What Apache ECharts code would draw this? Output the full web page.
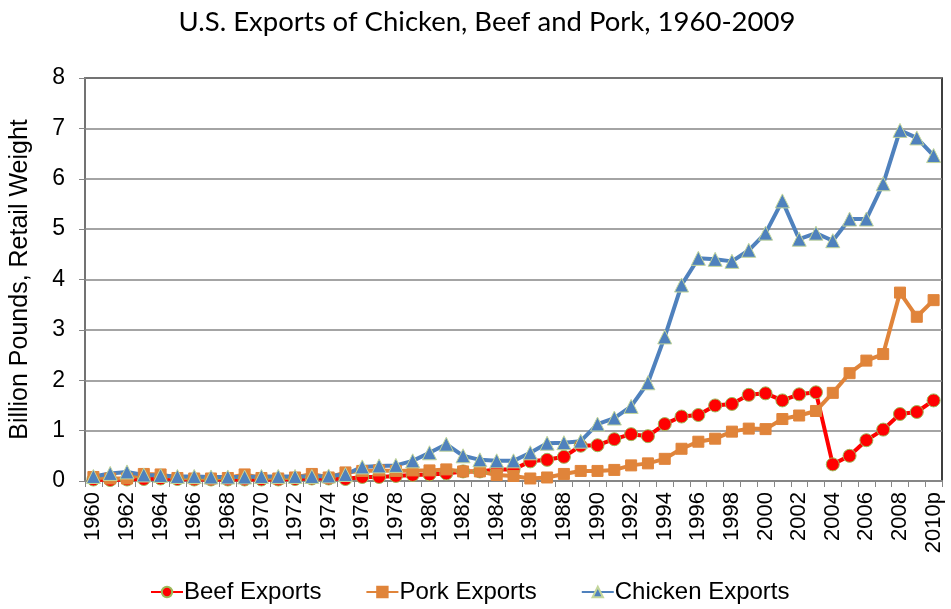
<!DOCTYPE html>
<html>
<head>
<meta charset="utf-8">
<script src="https://cdn.jsdelivr.net/npm/echarts@6/dist/echarts.min.js"></script>
<style>html,body{margin:0;padding:0;background:#fff}#c{width:951px;height:609px}</style>
</head>
<body>
<div id="c"></div>
<script>
var years = [];
for (var y = 1960; y <= 2009; y++) years.push(String(y));
years.push('2010p');

var beef = [0.03,0.02,0.03,0.04,0.05,0.04,0.03,0.03,0.03,0.03,
            0.03,0.03,0.04,0.05,0.05,0.04,0.08,0.08,0.10,0.12,
            0.13,0.15,0.19,0.19,0.23,0.23,0.39,0.42,0.48,0.70,
            0.71,0.83,0.93,0.89,1.13,1.28,1.31,1.50,1.53,1.71,
            1.74,1.60,1.72,1.76,0.33,0.50,0.81,1.02,1.33,1.37,1.60];
var pork = [0.08,0.05,0.05,0.14,0.13,0.06,0.05,0.05,0.06,0.13,
            0.06,0.05,0.07,0.14,0.07,0.17,0.20,0.21,0.20,0.21,
            0.21,0.23,0.19,0.19,0.12,0.10,0.05,0.07,0.14,0.20,
            0.20,0.22,0.31,0.35,0.44,0.64,0.78,0.84,0.98,1.04,
            1.03,1.23,1.30,1.39,1.75,2.14,2.39,2.52,3.74,3.26,3.59];
var chicken = [0.09,0.15,0.18,0.12,0.11,0.09,0.09,0.08,0.08,0.08,
               0.09,0.09,0.09,0.09,0.10,0.13,0.28,0.30,0.31,0.40,
               0.56,0.73,0.50,0.42,0.40,0.40,0.56,0.75,0.76,0.79,
               1.13,1.25,1.48,1.95,2.86,3.89,4.42,4.40,4.36,4.58,
               4.92,5.56,4.80,4.92,4.77,5.20,5.20,5.90,6.96,6.81,6.46];
var yTicks = [0,1,2,3,4,5,6,7,8];

var chart = echarts.init(document.getElementById('c'));
chart.setOption({
  animation: false,
  backgroundColor: '#fff',
  title: {
    text: 'U.S. Exports of Chicken, Beef and Pork, 1960-2009',
    left: 482, textAlign: 'center', top: 3,
    textStyle: {fontFamily: 'Lato', fontSize: 27.5, fontWeight: 'normal', color: '#000'}
  },
  legend: {
    bottom: 0, left: 145, itemWidth: 32, itemHeight: 13, itemGap: 44,
    textStyle: {fontFamily: 'Liberation Sans', fontSize: 24, color: '#000', padding: [0,0,0,-4]},
    data: ['Beef Exports', 'Pork Exports', 'Chicken Exports']
  },
  grid: {left: 83, right: 9, top: 78, bottom: 128, show: true, borderColor: '#000', borderWidth: 1.5},
  xAxis: {
    type: 'category', data: years, boundaryGap: true,
    axisLine: {lineStyle: {color: '#868686', width: 2}},
    axisTick: {show: true, alignWithLabel: false, interval: 0, length: 6, lineStyle: {color: '#868686'}},
    axisLabel: {rotate: 90, interval: 1, fontFamily: 'Liberation Sans', fontSize: 22, color: '#000', margin: 11}
  },
  yAxis: {
    type: 'value', min: 0, max: 8, interval: 1,
    name: 'Billion Pounds, Retail Weight', nameLocation: 'middle', nameGap: 52,
    nameTextStyle: {fontFamily: 'Liberation Sans', fontSize: 25, color: '#000'},
    axisLine: {show: true, lineStyle: {color: '#868686', width: 1.5}},
    axisTick: {show: true, length: 6, lineStyle: {color: '#868686'}},
    axisLabel: {fontFamily: 'Liberation Sans', fontSize: 23, color: '#000', margin: 20,
      formatter: function (v) { return yTicks.indexOf(v) >= 0 ? String(v) : ''; }},
    splitLine: {lineStyle: {color: '#868686', width: 1.5}}
  },
  series: [
    {name: 'Beef Exports', type: 'line', data: beef, symbol: 'circle', symbolSize: 13, showAllSymbol: true,
     lineStyle: {color: '#FF0000', width: 4}, itemStyle: {color: '#FF0000', borderColor: '#9BBB59', borderWidth: 1}},
    {name: 'Pork Exports', type: 'line', data: pork, symbol: 'rect', symbolSize: 11, showAllSymbol: true,
     lineStyle: {color: '#E0843A', width: 4}, itemStyle: {color: '#E0843A', borderColor: '#E0843A', borderWidth: 1}},
    {name: 'Chicken Exports', type: 'line', data: chicken, symbol: 'triangle', symbolSize: 14, showAllSymbol: true,
     lineStyle: {color: '#4F81BD', width: 4}, itemStyle: {color: '#4F81BD', borderColor: '#C3D69B', borderWidth: 1}}
  ]
});
</script>
</body>
</html>
